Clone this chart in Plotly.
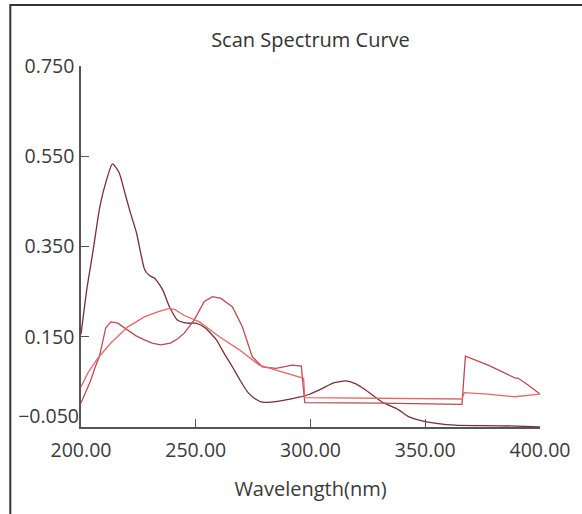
import plotly.graph_objects as go

# Wavelength (nm) / absorbance for the three scans
a_x = [200, 202.5, 205.3, 208.2, 211.1, 213.7, 216.5, 219.1, 221.5, 224.2, 227.8, 230, 232, 235.6, 238.5,
       242, 246.4, 250, 254, 259, 262.5, 266, 269.5, 273, 276, 279, 287, 295, 299.3, 305, 310, 315.5,
       320, 324, 331, 338.4, 342.7, 350, 363, 375, 390, 400]
a_y = [0.155, 0.254, 0.342, 0.438, 0.497, 0.533, 0.515, 0.469, 0.425, 0.38, 0.298, 0.285, 0.28, 0.254, 0.217,
       0.187, 0.18, 0.18, 0.17, 0.143, 0.112, 0.083, 0.052, 0.025, 0.012, 0.005, 0.008, 0.016, 0.022, 0.035,
       0.048, 0.052, 0.045, 0.032, 0.006, -0.012, -0.027, -0.038, -0.046, -0.047, -0.048, -0.05]

b_x = [200, 202, 204.3, 206, 208, 210.8, 213, 216, 220.4, 224, 227.6, 231, 234.7, 239, 242, 245, 249.3,
       253.7, 257.3, 261, 266, 270.3, 274.6, 279, 285, 292, 296, 297.5, 330, 366, 367.5, 377.4, 389,
       390.5, 394.8, 400]
b_y = [0.003, 0.025, 0.054, 0.08, 0.106, 0.17, 0.183, 0.18, 0.165, 0.152, 0.143, 0.136, 0.132, 0.136, 0.145,
       0.158, 0.187, 0.228, 0.239, 0.235, 0.216, 0.172, 0.106, 0.083, 0.08, 0.087, 0.085, 0.004, 0.003, 0.0,
       0.107, 0.087, 0.059, 0.058, 0.043, 0.023]

c_x = [200, 203, 207.4, 213, 220.4, 227.6, 233.4, 238.5, 241, 245, 251.6, 260.3, 269, 277.7, 285, 295, 297,
       297.5, 330, 366, 367, 377, 389, 400]
c_y = [0.039, 0.07, 0.103, 0.136, 0.172, 0.194, 0.205, 0.213, 0.21, 0.197, 0.183, 0.15, 0.121, 0.087, 0.076,
       0.061, 0.058, 0.015, 0.014, 0.012, 0.026, 0.023, 0.017, 0.023]

x_ticks = [200, 250, 300, 350, 400]
y_ticks = [0.15, 0.35, 0.55, 0.75]
y_bottom_tick = [-0.05]

FONT = "Open Sans"
fig = go.Figure()
fig.add_trace(go.Scatter(x=a_x, y=a_y, mode="lines",
                         line=dict(color="#7a2e36", width=1.3, shape="spline", smoothing=0.6)))
fig.add_trace(go.Scatter(x=b_x, y=b_y, mode="lines", line=dict(color="#bd4a52", width=1.3)))
fig.add_trace(go.Scatter(x=c_x, y=c_y, mode="lines", line=dict(color="#e06a6a", width=1.3)))
# invisible trace to activate second y axis (for raised bottom label)
fig.add_trace(go.Scatter(x=[200], y=[-0.05], yaxis="y2", mode="markers", marker=dict(opacity=0), hoverinfo="skip"))

fig.update_layout(
    width=582, height=514,
    margin=dict(l=81, r=40, t=66, b=87),
    paper_bgcolor="white", plot_bgcolor="white",
    showlegend=False,
    font=dict(family=FONT, color="#3a3a3a", size=19.5),
    title=dict(text="Scan Spectrum Curve", x=0.5, xref="paper", y=1 - 40 / 514, yanchor="middle",
               font=dict(family=FONT, size=20, color="#333333")),
    xaxis=dict(range=[200, 400], tickvals=x_ticks, tickformat=".2f", ticks="inside", ticklen=8,
               tickcolor="#555", showline=True, linecolor="#555", linewidth=1.5, showgrid=False,
               ticklabelstandoff=5,
               zeroline=False, title=dict(text="Wavelength(nm)", font=dict(size=20), standoff=20)),
    yaxis=dict(range=[-0.05, 0.75], tickvals=y_ticks, tickformat=".3f", ticks="inside", ticklen=8,
               tickcolor="#555", showline=True, linecolor="#555", linewidth=1.5, showgrid=False,
               ticklabelstandoff=1, zeroline=False),
    yaxis2=dict(range=[-0.05, 0.75], overlaying="y", side="left", tickvals=y_bottom_tick, tickformat=".3f",
                ticks="", ticklabelshift=-11, ticklabelstandoff=1,
                showline=False, showgrid=False, zeroline=False),
    shapes=[dict(type="rect", xref="paper", yref="paper",
                 x0=(10 - 81) / 461, x1=(600 - 81) / 461, y0=(427 - 540) / 361, y1=(427 - 5) / 361,
                 line=dict(color="#333", width=2), layer="above")],
)

fig.write_html("out.html", config={"displayModeBar": False},
               post_script="document.body.style.margin='0px';")
